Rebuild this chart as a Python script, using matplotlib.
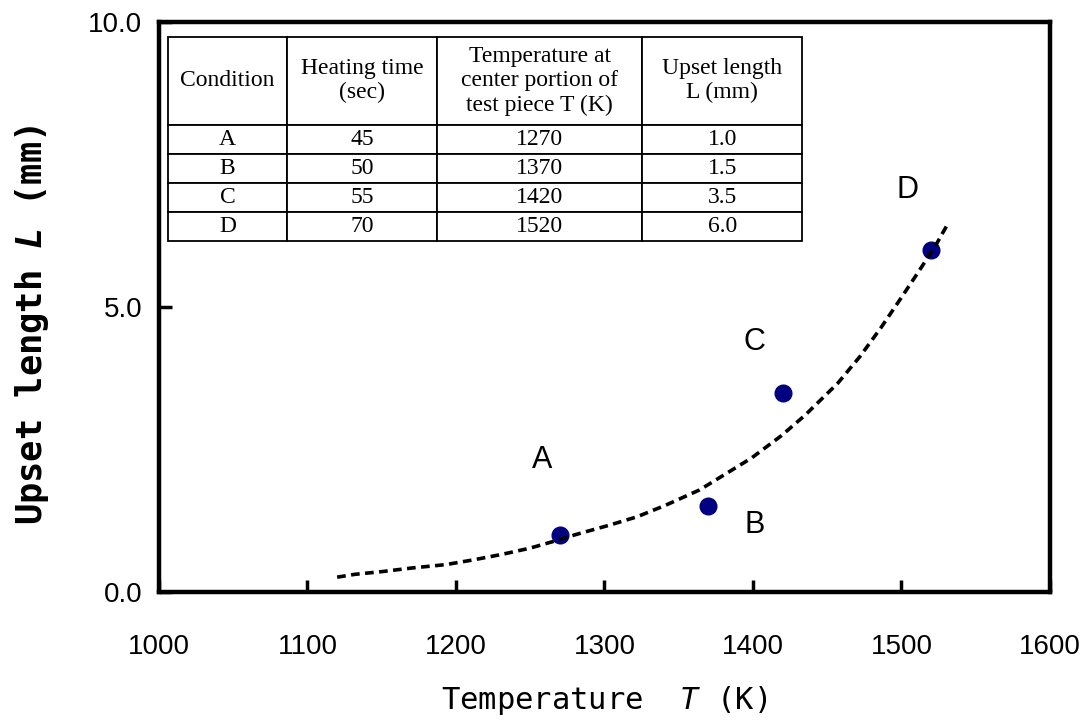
import matplotlib
matplotlib.use("Agg")
import matplotlib.pyplot as plt

# measured points (table values)
conditions = ["A", "B", "C", "D"]
heating_time = [45, 50, 55, 70]
temperature = [1270, 1370, 1420, 1520]
upset_length = [1.0, 1.5, 3.5, 6.0]

# dashed trend curve
curve_T = [1120, 1132, 1151, 1170, 1193, 1211, 1231, 1250, 1270, 1281, 1303, 1322,
           1341, 1364, 1374, 1399, 1419, 1435, 1457, 1472, 1486, 1499, 1511, 1523, 1531]
curve_L = [0.26, 0.31, 0.36, 0.42, 0.48, 0.56, 0.66, 0.77, 0.92, 1.01, 1.17, 1.32,
           1.52, 1.79, 1.95, 2.35, 2.74, 3.10, 3.66, 4.13, 4.63, 5.13, 5.60, 6.08, 6.45]

# label positions for the condition letters
label_T = [1258, 1401, 1401, 1504]
label_L = [2.32, 1.18, 4.39, 7.05]

header = ["Condition", "Heating time\n(sec)", "Temperature at\ncenter portion of\ntest piece T (K)",
          "Upset length\nL (mm)"]
col_widths = [119, 150, 205, 160]

plt.rcParams["mathtext.fontset"] = "custom"
plt.rcParams["mathtext.it"] = "DejaVu Sans Mono:italic"
plt.rcParams["mathtext.bf"] = "DejaVu Sans Mono:bold:italic"

fig = plt.figure(figsize=(10.91, 7.2), dpi=100)
ax = fig.add_axes([0.1457, 0.1778, 0.8167, 0.7916])

ax.plot(curve_T, curve_L, color="black", lw=2.6, dashes=(2.4, 1.5), zorder=4)
ax.plot(temperature, upset_length, "o", color="#000080", markersize=12, zorder=3)

for name, t, l in zip(conditions, label_T, label_L):
    ax.text(t, l, name, fontsize=22, family="Liberation Sans", ha="center", va="center")

ax.set_xlim(1000, 1600)
ax.set_ylim(0, 10)
ax.set_xticks([1000, 1100, 1200, 1300, 1400, 1500, 1600])
ax.set_yticks([0, 5, 10])
ax.set_yticklabels(["0.0", "5.0", "10.0"])
for lab in ax.get_xticklabels() + ax.get_yticklabels():
    lab.set_family("Liberation Sans")
    lab.set_fontsize(20)
ax.tick_params(axis="x", direction="in", length=9, width=2.5, pad=30)
ax.tick_params(axis="y", direction="in", length=9, width=2.5, pad=12)
for sp in ax.spines.values():
    sp.set_linewidth(3.2)

ax.set_xlabel("Temperature  $\\it{T}$ (K)", fontsize=22, family="DejaVu Sans Mono")
ax.xaxis.set_label_coords(0.4995, -0.162)
ax.set_ylabel("Upset length $\\mathbf{L}$ (mm)", fontsize=25.5, family="DejaVu Sans Mono",
              fontweight="bold")
ax.yaxis.set_label_coords(-0.121, 0.468)

rows = [[c, str(h), str(t), "%.1f" % l]
        for c, h, t, l in zip(conditions, heating_time, temperature, upset_length)]
total = sum(col_widths)
tab = ax.table(cellText=rows, colLabels=header, cellLoc="center",
               colWidths=[w / total for w in col_widths],
               bbox=[0.010, 0.616, 0.712, 0.358], zorder=5)
tab.auto_set_font_size(False)
for (r, c), cell in tab.get_celld().items():
    cell.set_linewidth(1.3)
    cell.set_edgecolor("black")
    cell.get_text().set_family("Liberation Serif")
    cell.get_text().set_fontsize(17)
    cell.set_height(0.303 if r == 0 else 0.1)

fig.savefig("out.png", dpi=100)
